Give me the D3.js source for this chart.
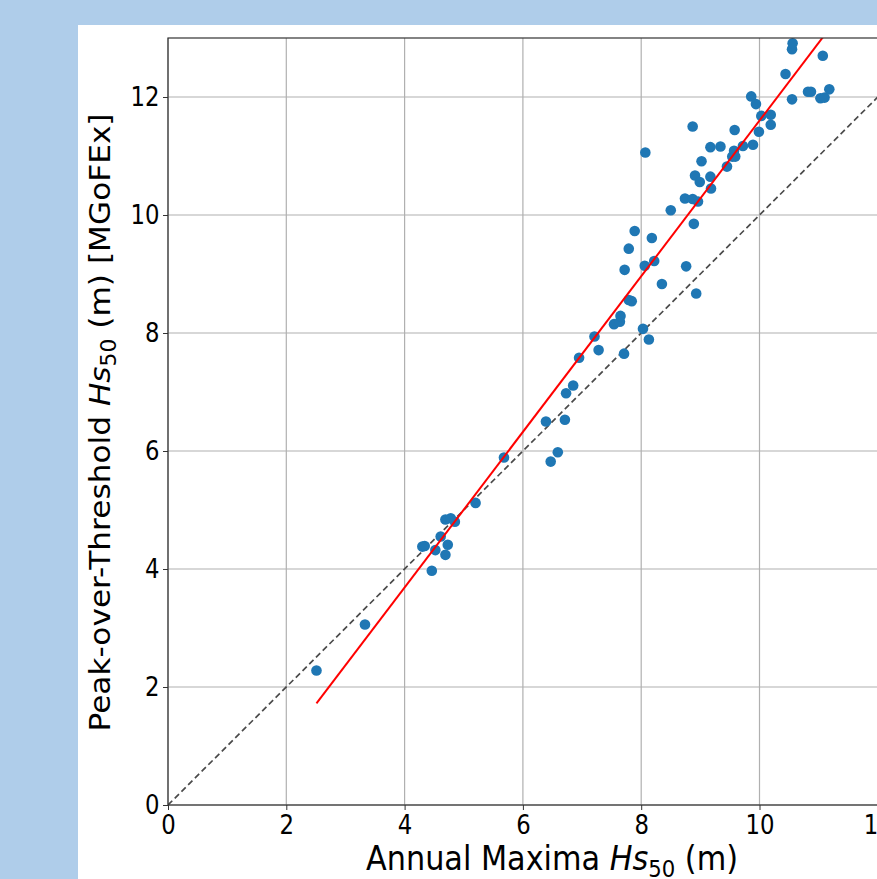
<!DOCTYPE html>
<html>
<head>
<meta charset="utf-8">
<script src="https://cdn.jsdelivr.net/npm/d3@7"></script>
<style>
  body { margin: 0; background: #afcdea; overflow: hidden; }
  text { font-family: "DejaVu Sans", sans-serif; fill: #000; }
</style>
</head>
<body>
<script>
// annual maxima Hs50 (x) vs peak-over-threshold Hs50 (y), metres
var amHs = [2.51, 3.33, 4.30, 4.34, 4.46, 4.52, 4.61, 4.69, 4.78, 4.85, 4.73, 4.69, 5.20, 5.68,
    6.39, 6.47, 6.59, 6.71, 6.73, 6.85, 6.95, 7.21, 7.28, 7.54, 7.64, 7.65, 7.71, 7.72, 7.79,
    7.79, 7.84, 7.89, 8.03, 8.07, 8.06, 8.13, 8.18, 8.22, 8.35, 8.50, 8.74, 8.76, 8.87, 8.87,
    8.89, 8.91, 8.93, 8.96, 8.99, 9.02, 9.17, 9.17, 9.18, 9.34, 9.45, 9.54, 9.57, 9.59, 9.58,
    9.72, 9.86, 9.89, 9.94, 9.99, 10.03, 10.19, 10.19, 10.44, 10.55, 10.56, 10.55, 10.82,
    10.87, 11.07, 11.03, 11.10, 11.18];
var potHs = [2.28, 3.06, 4.38, 4.39, 3.97, 4.32, 4.55, 4.84, 4.86, 4.80, 4.41, 4.24, 5.12, 5.89,
    6.50, 5.82, 5.98, 6.53, 6.98, 7.11, 7.58, 7.94, 7.71, 8.15, 8.19, 8.29, 7.65, 9.07, 9.43,
    8.56, 8.54, 9.73, 8.07, 11.06, 9.14, 7.89, 9.61, 9.22, 8.83, 10.08, 10.28, 9.13, 11.50, 10.27,
    9.85, 10.67, 8.67, 10.23, 10.56, 10.91, 11.15, 10.65, 10.45, 11.16, 10.82, 10.99, 11.09, 10.99, 11.44,
    11.17, 12.01, 11.19, 11.88, 11.41, 11.68, 11.70, 11.53, 12.39, 12.81, 12.91, 11.96, 12.09,
    12.09, 12.70, 11.98, 11.99, 12.13];

// linear fit (red) and 1:1 reference (dashed)
var fitSlope = 1.319, fitIntercept = -1.59;
var xTicks = [0, 2, 4, 6, 8, 10, 12];
var yTicks = [0, 2, 4, 6, 8, 10, 12];

var width = 877, height = 879;
var plotLeft = 168, plotTop = 38, plotBottom = 805;
var unit = 59.15;
var plotW = 13 * unit, plotH = plotBottom - plotTop;

var svg = d3.select("body").append("svg").attr("width", width).attr("height", height);

// white figure panel over blue page
svg.append("rect").attr("x", 78).attr("y", 25).attr("width", width).attr("height", height).attr("fill", "white");

var x = d3.scaleLinear().domain([0, 13]).range([plotLeft, plotLeft + plotW]);
var y = d3.scaleLinear().domain([0, 13]).range([plotBottom, plotTop]);

svg.append("clipPath").attr("id", "plotclip")
    .append("rect").attr("x", plotLeft).attr("y", plotTop).attr("width", plotW).attr("height", plotH);

//grid
var grid = svg.append("g");
grid.selectAll(".gx").data(xTicks).enter().append("line")
    .attr("x1", (d) => x(d)).attr("x2", (d) => x(d))
    .attr("y1", plotTop).attr("y2", plotBottom)
    .attr("stroke", "#b0b0b0").attr("stroke-width", 1.2);
grid.selectAll(".gy").data(yTicks).enter().append("line")
    .attr("x1", plotLeft).attr("x2", plotLeft + plotW)
    .attr("y1", (d) => y(d)).attr("y2", (d) => y(d))
    .attr("stroke", "#b0b0b0").attr("stroke-width", 1.2);

var plot = svg.append("g").attr("clip-path", "url(#plotclip)");

// 1:1 line
plot.append("line")
    .attr("x1", x(0)).attr("y1", y(0)).attr("x2", x(13)).attr("y2", y(13))
    .attr("stroke", "#4a4a4a").attr("stroke-width", 1.7).attr("stroke-dasharray", "6,3.5");

// points
plot.selectAll("circle").data(amHs).enter().append("circle")
    .attr("cx", (d) => x(d))
    .attr("cy", (d, i) => y(potHs[i]))
    .attr("r", 5.3)
    .attr("fill", "#1f77b4");

// fit line
var x0 = d3.min(amHs), x1 = d3.max(amHs);
plot.append("line")
    .attr("x1", x(x0)).attr("y1", y(fitSlope * x0 + fitIntercept))
    .attr("x2", x(x1)).attr("y2", y(fitSlope * x1 + fitIntercept))
    .attr("stroke", "red").attr("stroke-width", 2);

//axes
var xAxis = svg.append("g").attr("transform", "translate(0," + plotBottom + ")")
    .call(d3.axisBottom(x).tickValues(xTicks).tickSize(5).tickPadding(4).tickFormat(d3.format("d")));
var yAxis = svg.append("g").attr("transform", "translate(" + plotLeft + ",0)")
    .call(d3.axisLeft(y).tickValues(yTicks).tickSize(5).tickPadding(4).tickFormat(d3.format("d")));
[xAxis, yAxis].forEach(function (a) {
    a.select(".domain").remove();
    a.selectAll("line").attr("stroke", "#333");
    // the picture is a little stretched vertically
    a.selectAll("text").style("font-size", "24px").style("font-family", "DejaVu Sans")
        .attr("transform", "scale(0.95,1.12)");
});

// frame
svg.append("rect").attr("x", plotLeft).attr("y", plotTop).attr("width", plotW).attr("height", plotH)
    .attr("fill", "none").attr("stroke", "#333").attr("stroke-width", 1.2);

// axis labels
var xl = svg.append("text").attr("transform", "translate(552,870) scale(1.01,1.12)")
    .attr("text-anchor", "middle").style("font-size", "30px");
xl.append("tspan").text("Annual Maxima ");
xl.append("tspan").style("font-style", "italic").text("Hs");
xl.append("tspan").style("font-size", "21px").attr("dy", 6).text("50");
xl.append("tspan").attr("dy", -6).text(" (m)");

var yl = svg.append("text").attr("transform", "translate(110," + (y(6.5) + 1) + ") rotate(-90) scale(1.04,0.97)")
    .attr("text-anchor", "middle").style("font-size", "30px");
yl.append("tspan").text("Peak-over-Threshold ");
yl.append("tspan").style("font-style", "italic").text("Hs");
yl.append("tspan").style("font-size", "21px").attr("dy", 6).text("50");
yl.append("tspan").attr("dy", -6).text(" (m) [MGoFEx]");
</script>
</body>
</html>
